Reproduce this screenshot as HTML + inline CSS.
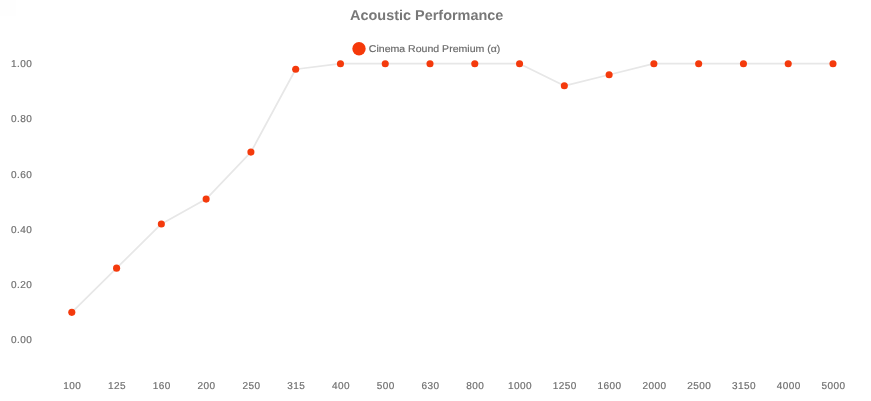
<!DOCTYPE html>
<html><head><meta charset="utf-8"><title>Acoustic Performance</title>
<style>
html,body{margin:0;padding:0;background:#fff;}
body{width:871px;height:401px;overflow:hidden;}
svg{display:block;text-rendering:geometricPrecision;font-family:"Liberation Sans",Arial,Helvetica,sans-serif;}
.title{font-size:14.3px;font-weight:bold;fill:#787878;}
.leg{font-size:9.8px;fill:#686868;stroke:#686868;stroke-width:0.15px;}
.tick{font-size:10px;fill:#707070;stroke:#707070;stroke-width:0.2px;letter-spacing:0.44px;}
</style></head><body>
<svg width="871" height="401" viewBox="0 0 871 401">
<rect width="871" height="401" fill="#ffffff"/>
<rect x="0" y="0" width="16" height="16" fill="#fefefe"/>
<text class="title" x="350" y="19.6" textLength="153.4" lengthAdjust="spacingAndGlyphs">Acoustic Performance</text>
<polyline points="71.80,312.37 116.58,268.16 161.35,223.95 206.13,199.09 250.91,152.12 295.68,69.23 340.46,63.70 385.24,63.70 430.01,63.70 474.79,63.70 519.56,63.70 564.34,85.80 609.12,74.75 653.89,63.70 698.67,63.70 743.45,63.70 788.22,63.70 833.00,63.70" fill="none" stroke="#e7e7e7" stroke-width="1.7" stroke-linejoin="round"/>
<circle cx="359" cy="48.8" r="6.7" fill="#f5390a"/>
<text class="leg" x="368.8" y="51.7" textLength="131.6" lengthAdjust="spacingAndGlyphs">Cinema Round Premium (α)</text>
<circle cx="71.80" cy="312.37" r="3.55" fill="#f43a0c"/>
<circle cx="116.58" cy="268.16" r="3.55" fill="#f43a0c"/>
<circle cx="161.35" cy="223.95" r="3.55" fill="#f43a0c"/>
<circle cx="206.13" cy="199.09" r="3.55" fill="#f43a0c"/>
<circle cx="250.91" cy="152.12" r="3.55" fill="#f43a0c"/>
<circle cx="295.68" cy="69.23" r="3.55" fill="#f43a0c"/>
<circle cx="340.46" cy="63.70" r="3.55" fill="#f43a0c"/>
<circle cx="385.24" cy="63.70" r="3.55" fill="#f43a0c"/>
<circle cx="430.01" cy="63.70" r="3.55" fill="#f43a0c"/>
<circle cx="474.79" cy="63.70" r="3.55" fill="#f43a0c"/>
<circle cx="519.56" cy="63.70" r="3.55" fill="#f43a0c"/>
<circle cx="564.34" cy="85.80" r="3.55" fill="#f43a0c"/>
<circle cx="609.12" cy="74.75" r="3.55" fill="#f43a0c"/>
<circle cx="653.89" cy="63.70" r="3.55" fill="#f43a0c"/>
<circle cx="698.67" cy="63.70" r="3.55" fill="#f43a0c"/>
<circle cx="743.45" cy="63.70" r="3.55" fill="#f43a0c"/>
<circle cx="788.22" cy="63.70" r="3.55" fill="#f43a0c"/>
<circle cx="833.00" cy="63.70" r="3.55" fill="#f43a0c"/>
<text class="tick" x="11" y="343">0.00</text>
<text class="tick" x="11" y="288">0.20</text>
<text class="tick" x="11" y="233">0.40</text>
<text class="tick" x="11" y="178">0.60</text>
<text class="tick" x="11" y="122">0.80</text>
<text class="tick" x="11" y="67">1.00</text>
<text class="tick" x="72.30" y="389" text-anchor="middle">100</text>
<text class="tick" x="117.08" y="389" text-anchor="middle">125</text>
<text class="tick" x="161.85" y="389" text-anchor="middle">160</text>
<text class="tick" x="206.63" y="389" text-anchor="middle">200</text>
<text class="tick" x="251.41" y="389" text-anchor="middle">250</text>
<text class="tick" x="296.18" y="389" text-anchor="middle">315</text>
<text class="tick" x="340.96" y="389" text-anchor="middle">400</text>
<text class="tick" x="385.74" y="389" text-anchor="middle">500</text>
<text class="tick" x="430.51" y="389" text-anchor="middle">630</text>
<text class="tick" x="475.29" y="389" text-anchor="middle">800</text>
<text class="tick" x="520.06" y="389" text-anchor="middle">1000</text>
<text class="tick" x="564.84" y="389" text-anchor="middle">1250</text>
<text class="tick" x="609.62" y="389" text-anchor="middle">1600</text>
<text class="tick" x="654.39" y="389" text-anchor="middle">2000</text>
<text class="tick" x="699.17" y="389" text-anchor="middle">2500</text>
<text class="tick" x="743.95" y="389" text-anchor="middle">3150</text>
<text class="tick" x="788.72" y="389" text-anchor="middle">4000</text>
<text class="tick" x="833.50" y="389" text-anchor="middle">5000</text>
</svg></body></html>
